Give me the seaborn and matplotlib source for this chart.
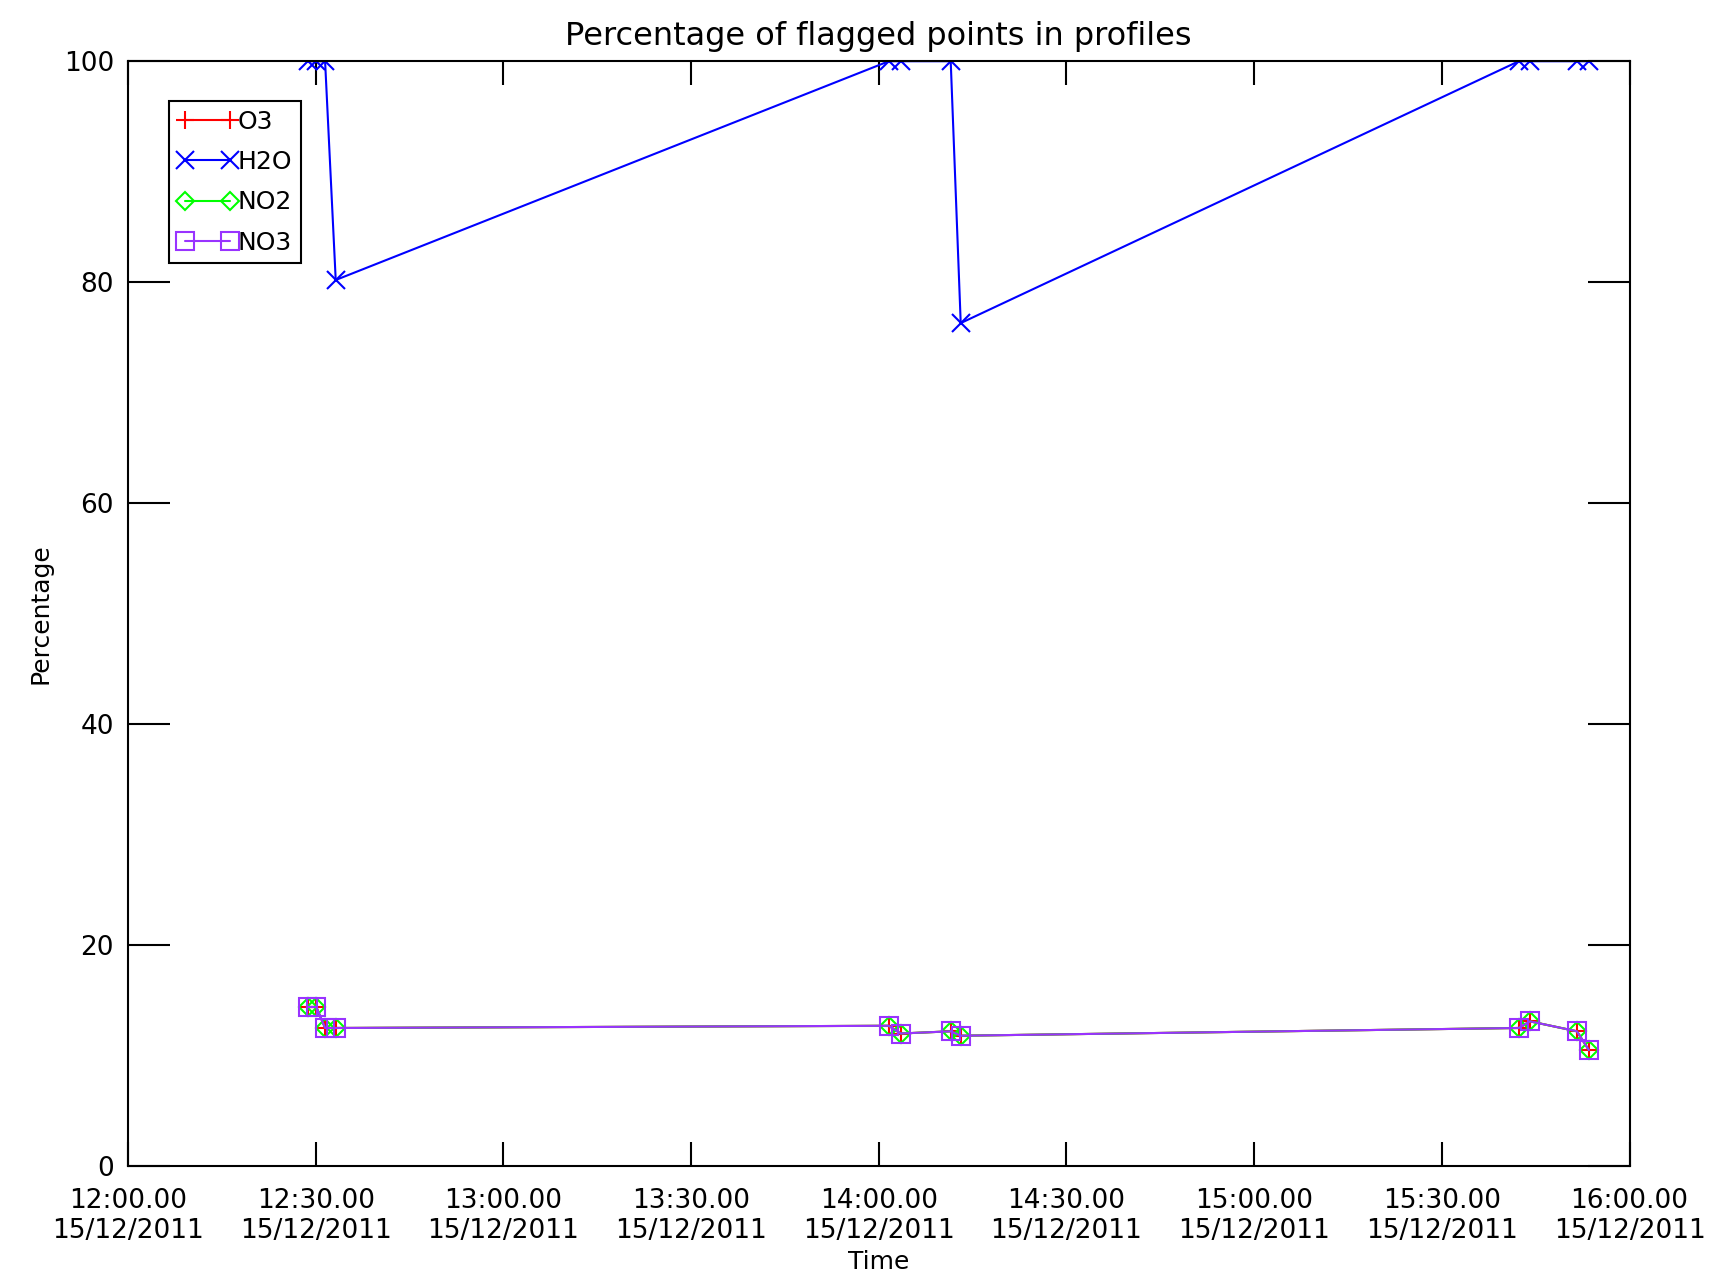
import numpy as np
import pandas as pd
import matplotlib
matplotlib.use("Agg")
import matplotlib.pyplot as plt
import matplotlib.dates as mdates
import seaborn as sns

# minutes after 12:00 on 15/12/2011
minutes = [28.7, 30.1, 31.5, 33.2,
           121.6, 123.5, 131.5, 133.1,
           222.3, 224.1, 231.6, 233.5]

o3 = [14.4, 14.4, 12.5, 12.5, 12.7, 12.0, 12.2, 11.8, 12.5, 13.1, 12.2, 10.5]
h2o = [100, 100, 100, 80.2, 100, 100, 100, 76.3, 100, 100, 100, 100]
no2 = [14.4, 14.4, 12.5, 12.5, 12.7, 12.0, 12.2, 11.8, 12.5, 13.1, 12.2, 10.5]
no3 = [14.4, 14.4, 12.5, 12.5, 12.7, 12.0, 12.2, 11.8, 12.5, 13.1, 12.2, 10.5]

series_names = ["O3", "H2O", "NO2", "NO3"]
series_colors = ["#ff0000", "#0000ff", "#00ff00", "#9933ff"]
series_markers = ["+", "x", "D", "s"]

start = pd.Timestamp("2011-12-15 12:00:00")
times = [start + pd.Timedelta(minutes=m) for m in minutes]

df = pd.DataFrame({"Time": times, "O3": o3, "H2O": h2o, "NO2": no2, "NO3": no3})

sns.set_style("ticks")
plt.rcParams["font.family"] = ["DejaVu Sans"]
plt.rcParams["text.color"] = "black"
plt.rcParams["xtick.labelcolor"] = "black"
plt.rcParams["ytick.labelcolor"] = "black"
plt.rcParams["axes.labelcolor"] = "black"

fig = plt.figure(figsize=(17.16, 12.81), dpi=100)
ax = fig.add_axes([0.0746, 0.0897, 0.875, 0.8625])

for name, col, mk in zip(series_names, series_colors, series_markers):
    msize = 9 if mk == "D" else 13
    sns.lineplot(data=df, x="Time", y=name, ax=ax, color=col, marker=mk,
                 markersize=msize, markerfacecolor="none", markeredgecolor=col,
                 markeredgewidth=1.5, linewidth=1.5, label=name, sort=False)

ax.set_xlim(start, start + pd.Timedelta(hours=4))
ax.set_ylim(0, 100)
ax.xaxis.set_major_locator(mdates.MinuteLocator(byminute=[0, 30]))
ax.xaxis.set_major_formatter(mdates.DateFormatter("%H:%M.%S\n%d/%m/%Y"))
ax.set_yticks([0, 20, 40, 60, 80, 100])

ax.tick_params(axis="both", direction="in", top=True, right=True,
               labelsize=19, color="black", width=1.5)
ax.tick_params(axis="y", length=30, pad=10)
ax.tick_params(axis="x", length=17, pad=16)
for s in ax.spines.values():
    s.set_linewidth(1.5)
    s.set_color("black")

ax.set_title("Percentage of flagged points in profiles", fontsize=23, pad=12)
ax.set_xlabel("Time", fontsize=18, labelpad=4)
ax.set_ylabel("Percentage", fontsize=18, labelpad=8)

leg = ax.legend(loc="upper left", bbox_to_anchor=(0.027, 0.964), borderaxespad=0,
                fontsize=18, numpoints=2, handlelength=2.4, handletextpad=0.0,
                fancybox=False, framealpha=1, edgecolor="black", labelspacing=0.65,
                borderpad=0.35)
leg.get_frame().set_linewidth(1.5)

fig.savefig("out.png", dpi=100)
